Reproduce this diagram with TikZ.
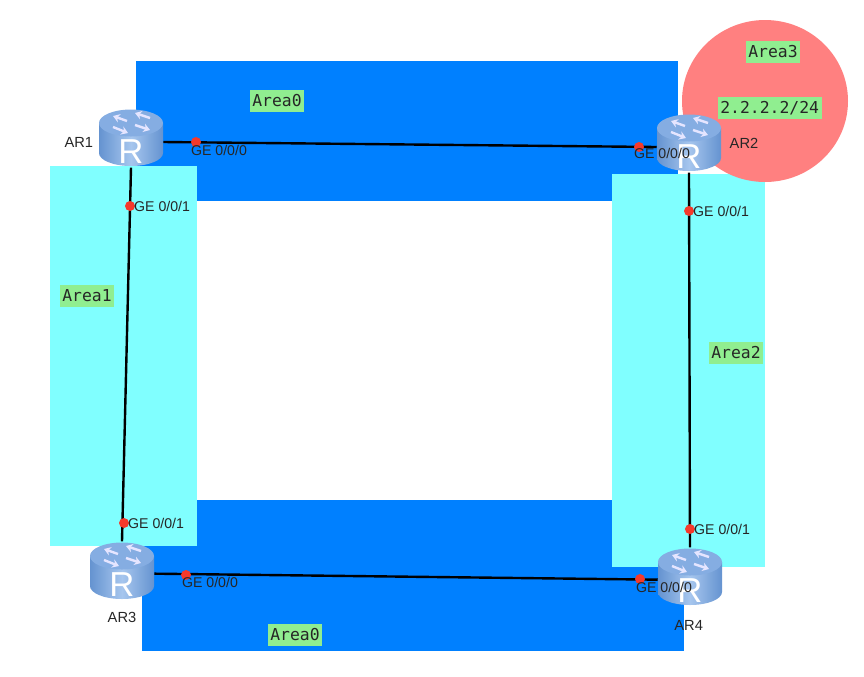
\documentclass[tikz,border=0pt]{standalone}
\usepackage{fontspec}
\setmainfont{Liberation Sans}
\newfontfamily\areafont{DejaVu Sans Mono}
\usepackage{tikz}
\usetikzlibrary{arrows.meta, positioning, calc}
\definecolor{areablue}{HTML}{0080FF}
\definecolor{areacyan}{HTML}{80FFFF}
\definecolor{areared}{HTML}{FF8080}
\definecolor{taggreen}{HTML}{90EE90}
\definecolor{bodyedge}{HTML}{6593D0}
\definecolor{bodymid}{HTML}{A6C6EE}
\definecolor{bodytop}{HTML}{85ADE2}
\definecolor{portred}{HTML}{F5392B}
\tikzset{
    routerbox/.style={rectangle, minimum width=48pt, minimum height=44pt, inner sep=0pt},
    port/.style={circle, fill=portred, minimum size=7.5pt, inner sep=0pt},
    portlabel/.style={inner sep=0pt, font=\fontsize{10.6}{12}\selectfont, text=black!85},
    namelabel/.style={inner sep=0pt, font=\fontsize{11}{12}\selectfont, text=black!85},
    areatag/.style={fill=taggreen, inner sep=2pt, minimum height=16.5pt, font=\areafont\fontsize{12.3}{14}\selectfont, text=black!85},
    link/.style={draw=black, line width=1.8pt},
    router/.pic={
        \path[left color=bodyedge, right color=bodyedge, middle color=bodymid]
            (-32,-15) -- (-32,15) arc[start angle=180, end angle=0, x radius=32, y radius=13] -- (32,-15) -- cycle;
        \fill[bodytop] (0,-15) ellipse[x radius=32, y radius=13.5];
        \draw[white!90!blue, line width=1.8pt, -{Stealth[length=5pt, width=6.5pt]}] (-4,-17) -- (-18,-22);
        \draw[white!90!blue, line width=1.8pt, -{Stealth[length=5pt, width=6.5pt]}] (19,-20) -- (4,-25);
        \draw[white!90!blue, line width=1.8pt, -{Stealth[length=5pt, width=6.5pt]}] (4,-13) -- (19,-8);
        \draw[white!90!blue, line width=1.8pt, -{Stealth[length=5pt, width=6.5pt]}] (-18,-11) -- (-3,-5);
        \node[white, inner sep=0pt, font=\fontsize{26}{26}\selectfont] at (0,14) {R};
    }
}
\begin{document}
\begin{tikzpicture}[x=0.75pt, y=-0.75pt]
    \useasboundingbox (0,0) rectangle (864,676);

    % Areas
    \fill [areablue] (136,61) rectangle (678,201);
    \fill [areablue] (142,500) rectangle (684,651);
    \fill [areacyan] (50,166) rectangle (197,546);
    \fill [areacyan] (612,174) rectangle (765,567);
    \fill [areared] (765,101) ellipse[x radius=83, y radius=81];

    % Routers
    \pic at (131,138) {router};
    \pic at (689,143) {router};
    \pic at (122,571) {router};
    \pic at (690,577) {router};
    \node (ar1) [routerbox] at (131,138) {};
    \node (ar2) [routerbox] at (689,143) {};
    \node (ar3) [routerbox] at (122,571) {};
    \node (ar4) [routerbox] at (690,577) {};

    \node (name1) [namelabel, left=4pt of ar1, yshift=-3pt] {AR1};
    \node (name2) [namelabel] at (744,143) {AR2};
    \node (name3) [namelabel, below=8.5pt of ar3] {AR3};
    \node (name4) [namelabel, below=10.5pt of ar4, xshift=-1pt] {AR4};

    % Links
    \draw [link] ([yshift=-3pt]ar1.east) -- ([yshift=-3pt]ar2.west);
    \draw [link] ([yshift=-2pt]ar3.east) -- ([yshift=-2pt]ar4.west);
    \draw [link] (ar1.south) -- (ar3.north);
    \draw [link] (ar2.south) -- (ar4.north);

    % Ports
    \node (p1) [port] at (196,142) {};
    \node (p2) [port] at (130,206) {};
    \node (p3) [port] at (639,147) {};
    \node (p4) [port] at (689,211) {};
    \node (p5) [port] at (186,575) {};
    \node (p6) [port] at (124,523) {};
    \node (p7) [port] at (640,579) {};
    \node (p8) [port] at (690,529) {};

    \node [portlabel] at (219,150) {GE 0/0/0};
    \node [portlabel, right=-1pt of p2] {GE 0/0/1};
    \node [portlabel] at (662,153) {GE 0/0/0};
    \node [portlabel, right=-1pt of p4] {GE 0/0/1};
    \node [portlabel] at (210,582) {GE 0/0/0};
    \node [portlabel, right=-1pt of p6] {GE 0/0/1};
    \node [portlabel] at (664,587) {GE 0/0/0};
    \node [portlabel, right=-1pt of p8] {GE 0/0/1};

    % Area tags
    \node (tag0a) [areatag] at (277,101) {Area0};
    \node (tag0b) [areatag] at (295,635) {Area0};
    \node (tag1) [areatag] at (87,296) {Area1};
    \node (tag2) [areatag] at (736,353) {Area2};
    \node (tag3) [areatag] at (773,52) {Area3};
    \node (addr) [areatag, below=25pt of tag3, xshift=-2.5pt] {2.2.2.2/24};
\end{tikzpicture}
\end{document}
